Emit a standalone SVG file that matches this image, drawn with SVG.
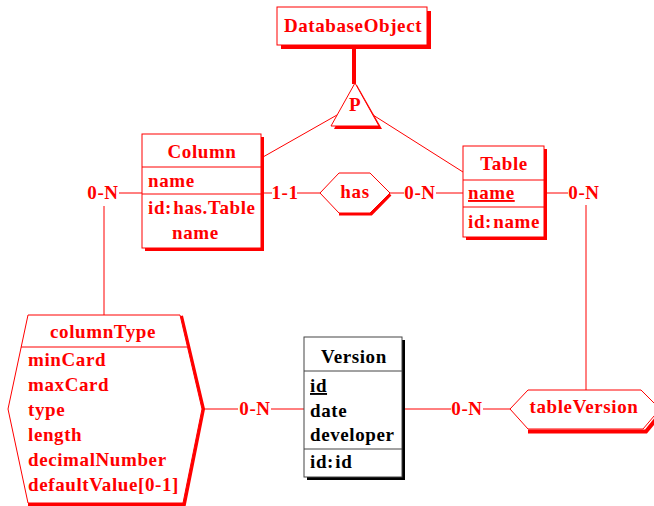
<svg xmlns="http://www.w3.org/2000/svg" width="654" height="506" viewBox="0 0 654 506">
<style>
text{font-family:"Liberation Serif","Times New Roman",serif;font-weight:bold;font-size:19px;fill:#ff0000;letter-spacing:0.6px;word-spacing:-4px}
.blk text{fill:#000}
.c{text-anchor:middle}
.ln{stroke:#ff0000;stroke-width:1;fill:none}
.box{fill:#fff;stroke:#ff0000;stroke-width:1}
.sh{fill:#ff0000}
.thick{stroke:#ff0000;stroke-width:4;fill:none}
</style>
<rect width="654" height="506" fill="#fff"/>
<g id="connectors">
  <line class="ln" x1="263" y1="157" x2="337" y2="115"/>
  <line class="ln" x1="373" y1="115" x2="463" y2="172"/>
  <line class="ln" x1="119" y1="193" x2="142" y2="193"/>
  <line class="ln" x1="104" y1="206" x2="104" y2="315"/>
  <line class="ln" x1="261" y1="193" x2="272" y2="193"/>
  <line class="ln" x1="297" y1="193" x2="320" y2="193"/>
  <line class="ln" x1="390" y1="193" x2="404" y2="193"/>
  <line class="ln" x1="436" y1="193" x2="463" y2="193"/>
  <line class="ln" x1="544" y1="193" x2="568" y2="193"/>
  <line class="ln" x1="586" y1="205" x2="586" y2="390"/>
  <line class="ln" x1="202" y1="409" x2="238" y2="409"/>
  <line class="ln" x1="271" y1="409" x2="304" y2="409"/>
  <line class="ln" x1="402" y1="409" x2="451" y2="409"/>
  <line class="ln" x1="483" y1="409" x2="510" y2="409"/>
  <text x="103" y="199" class="c">0-N</text>
  <text x="285" y="199" class="c">1-1</text>
  <text x="420" y="199" class="c">0-N</text>
  <text x="584" y="199" class="c">0-N</text>
  <text x="255" y="415" class="c">0-N</text>
  <text x="467" y="415" class="c">0-N</text>
</g>
<g id="DatabaseObject">
  <rect class="sh" x="281" y="11" width="150" height="38"/>
  <rect class="box" x="277" y="7" width="150" height="38"/>
  <text x="353" y="32" class="c">DatabaseObject</text>
</g>
<g id="isa">
  <line class="thick" x1="354" y1="45" x2="354" y2="84"/>
  <polygon class="sh" points="357,85 334,129 382,129"/>
  <polygon class="box" points="355,83 331,126 379,126"/>
  <text x="355" y="111" class="c">P</text>
</g>
<g id="Column">
  <rect class="sh" x="145" y="137" width="119" height="114"/>
  <rect class="box" x="142" y="134" width="119" height="114"/>
  <line class="ln" x1="142" y1="167" x2="261" y2="167"/>
  <line class="ln" x1="142" y1="194" x2="261" y2="194"/>
  <text x="202" y="158" class="c">Column</text>
  <text x="148" y="187">name</text>
  <text x="148" y="214">id: has.Table</text>
  <text x="172" y="239">name</text>
</g>
<g id="has">
  <path class="thick" d="M339,213.5 H371 L390,194" stroke-width="3"/>
  <polygon class="box" points="320,193 339,173 370,173 390,193 370,213 339,213"/>
  <text x="355" y="198" class="c">has</text>
</g>
<g id="Table">
  <rect class="sh" x="466" y="149" width="81" height="91"/>
  <rect class="box" x="463" y="146" width="81" height="91"/>
  <line class="ln" x1="463" y1="180" x2="544" y2="180"/>
  <line class="ln" x1="463" y1="207" x2="544" y2="207"/>
  <text x="504" y="170" class="c">Table</text>
  <text x="468" y="199" text-decoration="underline">name</text>
  <text x="468" y="228">id: name</text>
</g>
<g id="columnType">
  <path d="M181,316 L203,409 L184,504 H28" stroke="#ff0000" stroke-width="4" fill="none"/>
  <polygon class="box" points="28,315 180,315 202,409 183,503 28,503 8,409"/>
  <line class="ln" x1="21" y1="347" x2="187" y2="347"/>
  <text x="103" y="338" class="c">columnType</text>
  <text x="28" y="366">minCard</text>
  <text x="28" y="391">maxCard</text>
  <text x="28" y="416">type</text>
  <text x="28" y="441">length</text>
  <text x="28" y="466">decimalNumber</text>
  <text x="28" y="491">defaultValue[0-1]</text>
</g>
<g id="Version" class="blk">
  <rect fill="#000" x="307" y="340" width="98" height="140"/>
  <rect x="304" y="337" width="98" height="140" fill="#fff" stroke="#444" stroke-width="1"/>
  <line x1="304" y1="371" x2="402" y2="371" stroke="#444"/>
  <line x1="304" y1="449" x2="402" y2="449" stroke="#444"/>
  <text x="354" y="363" class="c">Version</text>
  <text x="310" y="392" text-decoration="underline">id</text>
  <text x="310" y="417">date</text>
  <text x="310" y="441">developer</text>
  <text x="310" y="468">id: id</text>
</g>
<g id="tableVersion">
  <path d="M528,431.5 H646 L662,412" stroke="#ff0000" stroke-width="4" fill="none"/>
  <polygon class="box" points="510,409 528,390 641,390 660,409 643,429 528,429"/>
  <text x="584" y="413" class="c">tableVersion</text>
</g>
</svg>
